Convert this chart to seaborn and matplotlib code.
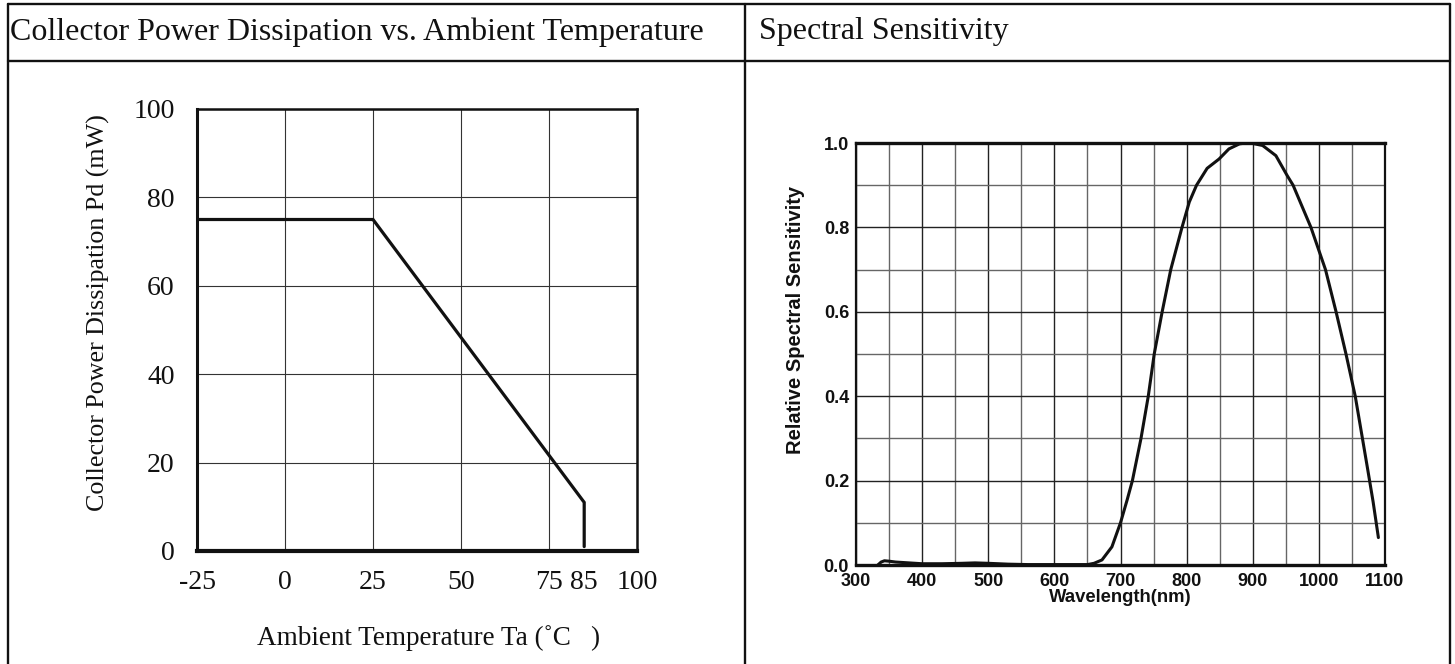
import numpy as np
import pandas as pd
import matplotlib
matplotlib.use("Agg")
import matplotlib.pyplot as plt
from matplotlib.lines import Line2D
import seaborn as sns

# left chart: derating curve
temp_c = [-25, 25, 85, 85]
power_mw = [75, 75, 11, 1]
temp_ticks = [-25, 0, 25, 50, 75, 85, 100]
power_ticks = [0, 20, 40, 60, 80, 100]

# right chart: spectral response
wavelength_nm = [333, 338, 343, 350, 360, 380, 400, 430, 460, 480, 500, 530, 560, 600, 640,
                 650, 660, 672, 687, 700, 710, 718, 731, 742, 751, 763, 776, 793, 804,
                 815, 831, 849, 864, 880, 890, 900, 915, 935, 952, 961, 988, 1010,
                 1026, 1041, 1055, 1065, 1074, 1082, 1090]
sensitivity = [0.0, 0.007, 0.01, 0.009, 0.007, 0.005, 0.003, 0.003, 0.004, 0.005, 0.004, 0.002, 0.001,
               0.001, 0.001, 0.001, 0.004, 0.012, 0.043, 0.10, 0.154, 0.20, 0.30, 0.40, 0.50,
               0.60, 0.70, 0.80, 0.86, 0.90, 0.94, 0.962, 0.986, 0.998, 1.0, 0.999, 0.994,
               0.97, 0.923, 0.90, 0.80, 0.70, 0.60, 0.50, 0.40, 0.308, 0.225, 0.15, 0.065]
wl_ticks = [300, 400, 500, 600, 700, 800, 900, 1000, 1100]
sens_ticks = [0.0, 0.2, 0.4, 0.6, 0.8, 1.0]

left_title = "Collector Power Dissipation vs. Ambient Temperature"
right_title = "Spectral Sensitivity"

sns.set_theme(style="white")
plt.rcParams["axes.unicode_minus"] = False
serif = ["Liberation Serif", "DejaVu Serif"]
sans = ["Liberation Sans Narrow", "Liberation Sans", "DejaVu Sans"]

W, H = 1455, 664
fig = plt.figure(figsize=(W / 100, H / 100), dpi=100)
fig.patch.set_facecolor("white")


def fx(px):
    return px / W


def fy(py):
    return 1 - py / H


def rect(x0, y0, x1, y1):
    # pixel box (top-left origin) -> figure fraction
    return [fx(x0), fy(y1), fx(x1) - fx(x0), fy(y0) - fy(y1)]


# table frame
for xs, ys in [([8, 1450], [4, 4]), ([8, 1450], [61, 61]), ([8, 8], [4, 664]),
               ([1450, 1450], [4, 664]), ([745, 745], [4, 664])]:
    fig.add_artist(Line2D([fx(x) for x in xs], [fy(y) for y in ys],
                          transform=fig.transFigure, color="#111111", lw=1.7))

fig.text(fx(10), fy(32), left_title, family=serif, fontsize=23, va="center", ha="left", color="#111111")
fig.text(fx(759), fy(32), right_title, family=serif, fontsize=23, va="center", ha="left", color="#111111")

# ---- left panel
ax1 = fig.add_axes(rect(197, 109, 637, 551))
df1 = pd.DataFrame({"t": temp_c, "p": power_mw})
ax1.plot(df1["t"], df1["p"], color="#111111", lw=2.3, solid_joinstyle="miter")
ax1.set_xlim(-25, 100)
ax1.set_ylim(0, 100)
ax1.set_xticks(temp_ticks)
ax1.set_yticks(power_ticks)
ax1.grid(True, color="#333333", lw=0.8)
ax1.get_xgridlines()[temp_ticks.index(85)].set_visible(False)
ax1.set_axisbelow(True)
ax1.tick_params(length=0, labelsize=20)
ax1.tick_params(axis="x", pad=14)
ax1.tick_params(axis="y", pad=16)
for lab in ax1.get_xticklabels() + ax1.get_yticklabels():
    lab.set_family(serif)
    lab.set_color("#111111")
for side, w in [("left", 2.2), ("top", 1.8), ("right", 1.8), ("bottom", 3.0)]:
    ax1.spines[side].set_visible(True)
    ax1.spines[side].set_color("#111111")
    ax1.spines[side].set_linewidth(w)
ax1.set_xlabel("Ambient Temperature Ta (˚C   )", family=serif, fontsize=19.5, color="#111111", va="center")
ax1.xaxis.set_label_coords(0.527, -0.197)
ax1.set_ylabel("Collector Power Dissipation Pd (mW)", family=serif, fontsize=18.7, color="#111111", va="center")
ax1.yaxis.set_label_coords(-0.225, 0.54)

# ---- right panel
ax2 = fig.add_axes(rect(856, 143, 1385, 565))
df2 = pd.DataFrame({"wl": wavelength_nm, "s": sensitivity})
sns.lineplot(data=df2, x="wl", y="s", ax=ax2, color="#111111", lw=2.2, estimator=None)
ax2.set_xlim(300, 1100)
ax2.set_ylim(0, 1.0)
ax2.set_xticks(wl_ticks)
ax2.set_xticks(np.arange(350, 1100, 100), minor=True)
ax2.set_yticks(sens_ticks)
ax2.set_yticks(np.arange(0.1, 1.0, 0.2), minor=True)
ax2.grid(True, which="major", color="#222222", lw=1.0)
ax2.grid(True, which="minor", color="#666666", lw=1.0)
ax2.set_axisbelow(True)
ax2.tick_params(which="both", length=0)
ax2.tick_params(axis="x", pad=6, labelsize=13)
ax2.tick_params(axis="y", pad=5, labelsize=13)
ax2.set_xticklabels([str(v) for v in wl_ticks])
ax2.set_yticklabels([f"{v:.1f}" for v in sens_ticks])
for lab in ax2.get_xticklabels() + ax2.get_yticklabels():
    lab.set_family(sans)
    lab.set_weight("bold")
    lab.set_color("#111111")
for side, w in [("left", 1.6), ("top", 2.4), ("right", 1.6), ("bottom", 2.4)]:
    ax2.spines[side].set_visible(True)
    ax2.spines[side].set_color("#111111")
    ax2.spines[side].set_linewidth(w)
ax2.set_xlabel("Wavelength(nm)", family=sans, fontsize=13.3, weight="bold", color="#111111", va="center")
ax2.xaxis.set_label_coords(0.5, -0.078)
ax2.set_ylabel("Relative Spectral Sensitivity", family=sans, fontsize=14.5, weight="bold", color="#111111", va="center")
ax2.yaxis.set_label_coords(-0.115, 0.58)

fig.savefig("out.png", dpi=100)
